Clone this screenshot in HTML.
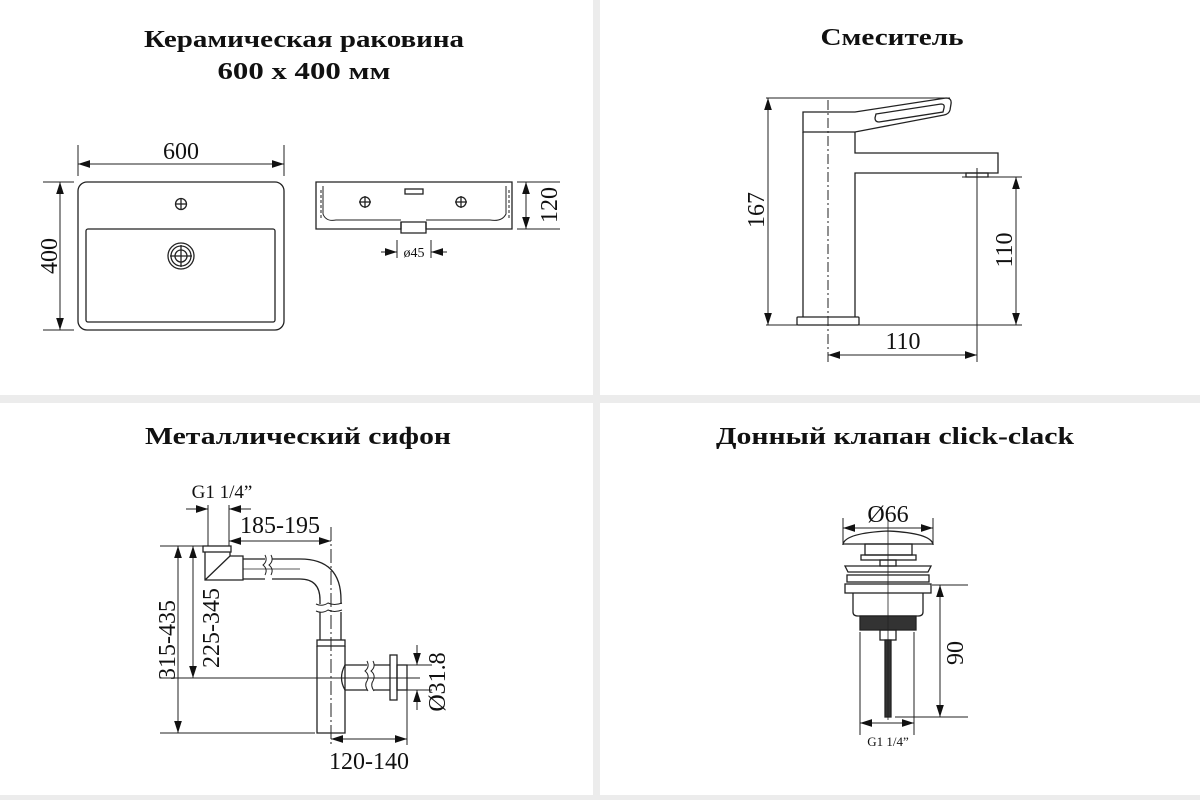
<!DOCTYPE html>
<html><head><meta charset="utf-8"><style>
html,body{margin:0;padding:0;background:#ececec;}
svg{display:block;}
.t{font-family:"Liberation Serif",serif;font-weight:bold;font-size:24px;fill:#111;}
.d{font-family:"Liberation Serif",serif;font-size:24px;fill:#111;}
</style></head><body>
<svg width="1200" height="800" viewBox="0 0 1200 800" xmlns="http://www.w3.org/2000/svg">
<defs>
<marker id="a" viewBox="0 0 10 10" refX="10" refY="5" markerWidth="12" markerHeight="12" markerUnits="userSpaceOnUse" orient="auto-start-reverse"><path d="M0,1.8 L10,5 L0,8.2 Z" fill="#111"/></marker>
</defs>
<rect width="1200" height="800" fill="#ececec"/>
<rect x="0" y="0" width="593" height="395" fill="#fff"/>
<rect x="600" y="0" width="600" height="395" fill="#fff"/>
<rect x="0" y="403" width="593" height="392" fill="#fff"/>
<rect x="600" y="403" width="600" height="392" fill="#fff"/>

<!-- titles -->
<text class="t" x="304" y="47" text-anchor="middle" textLength="320" lengthAdjust="spacingAndGlyphs">Керамическая раковина</text>
<text class="t" x="304" y="79" text-anchor="middle" textLength="173" lengthAdjust="spacingAndGlyphs">600 x 400 мм</text>
<text class="t" x="892" y="45" text-anchor="middle" textLength="143" lengthAdjust="spacingAndGlyphs">Смеситель</text>
<text class="t" x="298" y="444" text-anchor="middle" textLength="306" lengthAdjust="spacingAndGlyphs">Металлический сифон</text>
<text class="t" x="895" y="444" text-anchor="middle" textLength="358" lengthAdjust="spacingAndGlyphs">Донный клапан click-clack</text>

<g stroke="#222" fill="none" stroke-width="1.3">
<!-- sink top view -->
<rect x="78" y="182" width="206" height="148" rx="9"/>
<rect x="86" y="229" width="189" height="93" rx="2"/>
<circle cx="181" cy="204" r="5.5"/><line x1="175" y1="204" x2="187" y2="204"/><line x1="181" y1="198" x2="181" y2="210"/>
<circle cx="181" cy="256" r="13"/><circle cx="181" cy="256" r="10"/><circle cx="181" cy="256" r="6"/>
<line x1="170" y1="256" x2="192" y2="256"/><line x1="181" y1="245" x2="181" y2="267"/>
<line x1="78" y1="145" x2="78" y2="176" stroke-width="1"/><line x1="284" y1="145" x2="284" y2="176" stroke-width="1"/>
<line x1="78" y1="164" x2="284" y2="164" stroke-width="1" marker-start="url(#a)" marker-end="url(#a)"/>
<line x1="43" y1="182" x2="74" y2="182" stroke-width="1"/><line x1="43" y1="330" x2="74" y2="330" stroke-width="1"/>
<line x1="60" y1="182" x2="60" y2="330" stroke-width="1" marker-start="url(#a)" marker-end="url(#a)"/>
<!-- sink side -->
<path d="M316,182 H512 V229 H426 V222 H401 V229 H316 Z"/>
<path d="M323,186 V214 Q326,222 336,220 L401,220 M426,220 L490,220 Q502,222 506,214 V186" stroke-width="1"/>
<path d="M321,190 V220 M509,190 V220" stroke-dasharray="3 2" stroke-width="1"/>
<path d="M401,222 V233 H426 V222"/>
<rect x="405" y="189" width="18" height="5"/>
<circle cx="365" cy="202" r="5"/><line x1="359" y1="202" x2="371" y2="202"/><line x1="365" y1="196" x2="365" y2="208"/>
<circle cx="461" cy="202" r="5"/><line x1="455" y1="202" x2="467" y2="202"/><line x1="461" y1="196" x2="461" y2="208"/>
<line x1="517" y1="182" x2="560" y2="182" stroke-width="1"/><line x1="517" y1="229" x2="560" y2="229" stroke-width="1"/>
<line x1="526" y1="182" x2="526" y2="229" stroke-width="1" marker-start="url(#a)" marker-end="url(#a)"/>
<line x1="397" y1="240" x2="397" y2="258" stroke-width="1"/><line x1="431" y1="240" x2="431" y2="258" stroke-width="1"/>
<line x1="381" y1="252" x2="397" y2="252" stroke-width="1" marker-end="url(#a)"/>
<line x1="447" y1="252" x2="431" y2="252" stroke-width="1" marker-end="url(#a)"/>

<!-- faucet -->
<path d="M803,112 H855 L946,98 Q952,98 951,104 L950,110 Q949,114 944,115 L855,132 H803 Z"/>
<path d="M876,114 L941,104 Q945,104 944,108 L943,112 L879,122 Q875,122 875,118 Z"/>
<path d="M803,132 V317 M855,132 V153 H998 V173 H855 V317"/>
<rect x="966" y="173" width="22" height="4"/>
<rect x="797" y="317" width="62" height="8" rx="1"/>
<line x1="828" y1="100" x2="828" y2="362" stroke-width="1" stroke-dasharray="10 3 2 3"/>
<line x1="977" y1="168" x2="977" y2="362" stroke-width="1"/>
<line x1="766" y1="98" x2="950" y2="98" stroke-width="1"/>
<line x1="766" y1="325" x2="1022" y2="325" stroke-width="1"/>
<line x1="962" y1="177" x2="1022" y2="177" stroke-width="1"/>
<line x1="768" y1="98" x2="768" y2="325" stroke-width="1" marker-start="url(#a)" marker-end="url(#a)"/>
<line x1="1016" y1="177" x2="1016" y2="325" stroke-width="1" marker-start="url(#a)" marker-end="url(#a)"/>
<line x1="828" y1="355" x2="977" y2="355" stroke-width="1" marker-start="url(#a)" marker-end="url(#a)"/>

<!-- siphon -->
<rect x="203" y="546" width="28" height="6"/>
<path d="M205,552 V580 H243 V556 H230 V552 M205,580 L230,556"/>
<path d="M243,559 H265 M243,579 H265 M272,559 H300 Q341,559 341,600 V604 M272,579 H300 Q320,579 320,600 V604 M320,612 V640 M341,612 V640"/>
<path d="M265,555 q3,6 -2,10 q5,4 2,10 M271,555 q3,6 -2,10 q5,4 2,10 M316,604 q6,3 12,-1 q6,3 14,0 M316,611 q6,3 12,-1 q6,3 14,0" stroke-width="1"/>
<line x1="243" y1="569" x2="300" y2="569" stroke-width="0.8"/>
<rect x="317" y="640" width="28" height="6"/>
<path d="M317,646 V733 H345 V646"/>
<path d="M345,665 H367 M345,690 H367 M374,665 H390 M374,690 H390 M345,665 Q338,678 345,690"/>
<path d="M367,661 q3,6 -2,10 q5,4 2,10 q-3,4 1,10 M373,661 q3,6 -2,10 q5,4 2,10 q-3,4 1,10" stroke-width="1"/>
<rect x="390" y="655" width="7" height="45"/>
<rect x="397" y="665" width="10" height="25"/>
<line x1="160" y1="678" x2="420" y2="678" stroke-width="1"/>
<line x1="331" y1="527" x2="331" y2="745" stroke-width="1" stroke-dasharray="14 3 2 3"/>
<line x1="208" y1="505" x2="208" y2="546" stroke-width="1"/><line x1="229" y1="505" x2="229" y2="546" stroke-width="1"/>
<line x1="186" y1="509" x2="208" y2="509" stroke-width="1" marker-end="url(#a)"/>
<line x1="251" y1="509" x2="229" y2="509" stroke-width="1" marker-end="url(#a)"/>
<line x1="229" y1="541" x2="331" y2="541" stroke-width="1" marker-start="url(#a)" marker-end="url(#a)"/>
<line x1="160" y1="546" x2="205" y2="546" stroke-width="1"/>
<line x1="160" y1="733" x2="315" y2="733" stroke-width="1"/>
<line x1="178" y1="546" x2="178" y2="733" stroke-width="1" marker-start="url(#a)" marker-end="url(#a)"/>
<line x1="193" y1="546" x2="193" y2="678" stroke-width="1" marker-start="url(#a)" marker-end="url(#a)"/>
<line x1="407" y1="665" x2="432" y2="665" stroke-width="1"/><line x1="407" y1="690" x2="432" y2="690" stroke-width="1"/>
<line x1="417" y1="645" x2="417" y2="665" stroke-width="1" marker-end="url(#a)"/>
<line x1="417" y1="710" x2="417" y2="690" stroke-width="1" marker-end="url(#a)"/>
<line x1="407" y1="690" x2="407" y2="745" stroke-width="1"/>
<line x1="331" y1="739" x2="407" y2="739" stroke-width="1" marker-start="url(#a)" marker-end="url(#a)"/>

<!-- drain -->
<path d="M843,544 Q846,533 888,531 Q930,533 933,544 Z"/>
<rect x="865" y="544" width="47" height="11"/>
<rect x="861" y="555" width="55" height="5"/>
<rect x="880" y="560" width="16" height="6"/>
<path d="M845,566 H931 L928,572 H848 Z"/>
<rect x="847" y="575" width="82" height="7"/>
<rect x="845" y="584" width="86" height="9"/>
<path d="M853,593 V612 Q853,616 858,616 H918 Q923,616 923,612 V593"/>
<rect x="860" y="616" width="56" height="14" fill="#333"/>
<rect x="880" y="630" width="16" height="10"/>
<rect x="885" y="640" width="6" height="77" fill="#333"/>
<line x1="888" y1="520" x2="888" y2="720" stroke-width="0.8"/>
<line x1="843" y1="518" x2="843" y2="545" stroke-width="1"/><line x1="933" y1="518" x2="933" y2="545" stroke-width="1"/>
<line x1="843" y1="528" x2="933" y2="528" stroke-width="1" marker-start="url(#a)" marker-end="url(#a)"/>
<line x1="860" y1="632" x2="860" y2="735" stroke-width="1"/><line x1="914" y1="632" x2="914" y2="735" stroke-width="1"/>
<line x1="860" y1="723" x2="914" y2="723" stroke-width="1" marker-start="url(#a)" marker-end="url(#a)"/>
<line x1="932" y1="585" x2="968" y2="585" stroke-width="1"/><line x1="895" y1="717" x2="968" y2="717" stroke-width="1"/>
<line x1="940" y1="585" x2="940" y2="717" stroke-width="1" marker-start="url(#a)" marker-end="url(#a)"/>
</g>

<!-- dimension labels -->
<text class="d" x="181" y="159" text-anchor="middle">600</text>
<text class="d" transform="translate(57,256) rotate(-90)" text-anchor="middle">400</text>
<text class="d" transform="translate(557,205) rotate(-90)" text-anchor="middle">120</text>
<text class="d" x="414" y="257" text-anchor="middle" style="font-size:14px">ø45</text>
<text class="d" transform="translate(764,210) rotate(-90)" text-anchor="middle">167</text>
<text class="d" transform="translate(1012,250) rotate(-90)" text-anchor="middle">110</text>
<text class="d" x="903" y="349" text-anchor="middle">110</text>
<text class="d" x="222" y="498" text-anchor="middle" style="font-size:19px">G1 1/4”</text>
<text class="d" x="280" y="533" text-anchor="middle">185-195</text>
<text class="d" transform="translate(175,640) rotate(-90)" text-anchor="middle">315-435</text>
<text class="d" transform="translate(219,628) rotate(-90)" text-anchor="middle">225-345</text>
<text class="d" transform="translate(445,682) rotate(-90)" text-anchor="middle">Ø31.8</text>
<text class="d" x="369" y="769" text-anchor="middle">120-140</text>
<text class="d" x="888" y="522" text-anchor="middle">Ø66</text>
<text class="d" transform="translate(963,653) rotate(-90)" text-anchor="middle">90</text>
<text class="d" x="888" y="746" text-anchor="middle" style="font-size:13px">G1 1/4”</text>
</svg>
</body></html>
